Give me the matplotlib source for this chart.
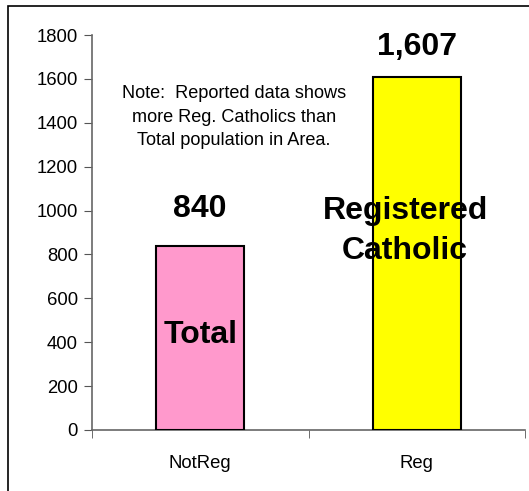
import matplotlib
matplotlib.use("Agg")
import matplotlib.pyplot as plt
from matplotlib.patches import Rectangle

categories = ["NotReg", "Reg"]
values = [840, 1607]
value_labels = ["840", "1,607"]
bar_colors = ["#FF99CC", "#FFFF00"]
yticks = [0, 200, 400, 600, 800, 1000, 1200, 1400, 1600, 1800]
note = "Note:  Reported data shows\nmore Reg. Catholics than\nTotal population in Area."

plt.rcParams['font.family'] = ['Liberation Sans', 'DejaVu Sans']

fig = plt.figure(figsize=(5.29, 4.91), dpi=100)
fig.patch.set_facecolor("white")
ax = fig.add_axes([92/529, 1-430/491, (525-92)/529, (430-35)/491])

x = list(range(len(categories)))
ax.bar(x, values, width=0.405, color=bar_colors, edgecolor="black", linewidth=1.5, zorder=3)

ax.set_xlim(-0.5, 1.5)
ax.set_ylim(0, 1800)
ax.set_yticks(yticks)
ax.set_yticklabels([str(t) for t in yticks], fontsize=13.3)
ax.set_xticks(x)
ax.set_xticklabels(categories, fontsize=13.3)
ax.set_xticks([-0.5, 0.5, 1.5], minor=True)
ax.tick_params(axis="x", which="major", length=0, pad=18)
ax.tick_params(axis="x", which="minor", length=6, direction="out", color="#555555")
ax.tick_params(axis="y", length=6, direction="out", color="#555555", pad=4)

for s in ["top", "right"]:
    ax.spines[s].set_visible(False)
for s in ["left", "bottom"]:
    ax.spines[s].set_color("#666666")
    ax.spines[s].set_linewidth(1.2)

big = 23
# value labels
ax.text(0, 1007, value_labels[0], ha="center", va="center", fontsize=big, fontweight="bold")
ax.text(1, 1745, value_labels[1], ha="center", va="center", fontsize=big, fontweight="bold")
# in-bar labels
ax.text(0, 433, "Total", ha="center", va="center", fontsize=big, fontweight="bold", zorder=5)
ax.text(0.946, 907, "Registered\nCatholic", ha="center", va="center", fontsize=big,
        fontweight="bold", linespacing=1.45, zorder=5)
# note
ax.text(0.156, 1426, note, ha="center", va="center", fontsize=13.1, linespacing=1.5)

# outer frame
fig.add_artist(Rectangle((8/529, -0.05), 1.2, 1 - 6/491 + 0.05, transform=fig.transFigure,
                         fill=False, edgecolor="black", linewidth=1.2))

fig.savefig("out.png", dpi=100)
